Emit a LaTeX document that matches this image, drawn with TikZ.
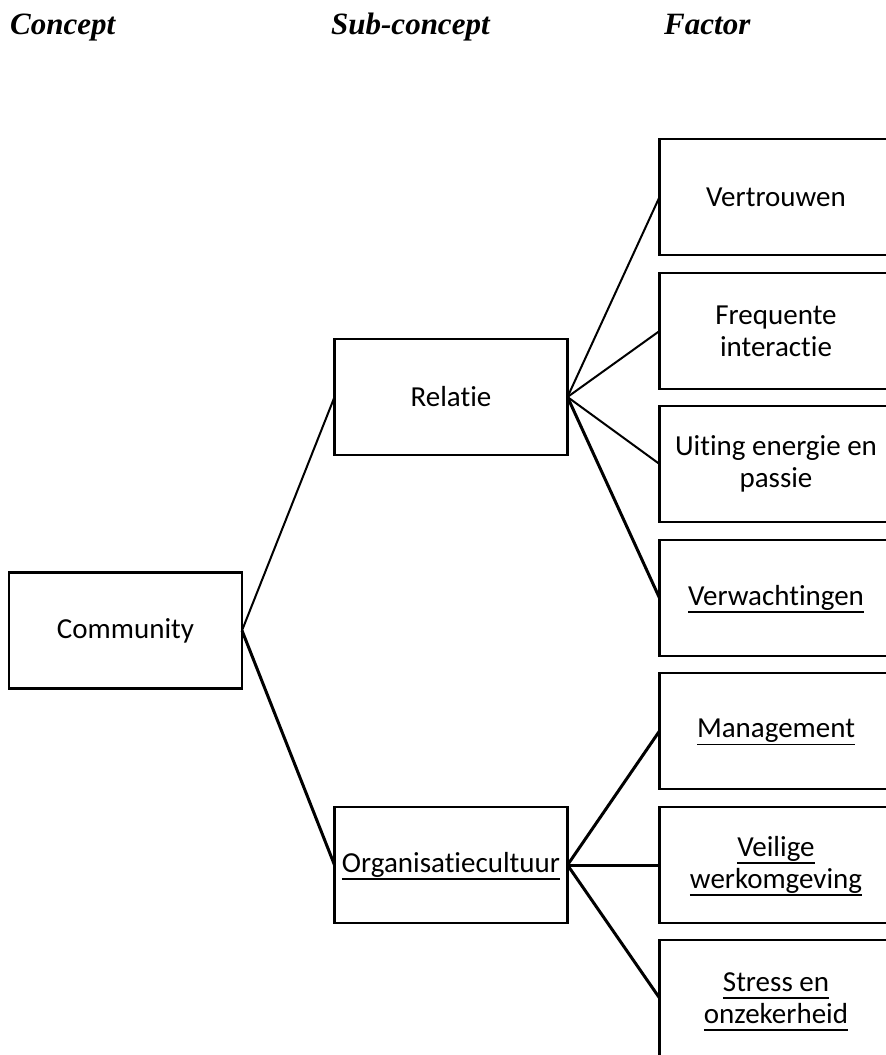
\documentclass[tikz,border=0pt]{standalone}
\usepackage{fontspec}
\setmainfont{Carlito}[Ligatures={NoCommon,NoContextual},Contextuals=NoAlternate]
\newfontfamily\headfont{Liberation Serif}
% underline set close below the baseline, as a word processor draws it
\newcommand\undl[1]{\setbox0\hbox{#1}\rlap{\smash{\rule[-0.25em]{\wd0}{0.05em}}}\box0}
\begin{document}
\begin{tikzpicture}[x=1pt,y=-1pt,
  box/.style={draw, line width=2.8pt, minimum width=233pt, minimum height=116pt,
    inner sep=0pt, outer sep=0pt, align=center, font=\fontsize{29}{32}\selectfont},
  factorbox/.style={box, draw=none},
  frame/.style={line width=2.8pt},
  head/.style={anchor=base west, inner sep=0pt,
    font=\fontsize{31}{36}\selectfont\headfont\bfseries\itshape},
  thinlink/.style={line width=2pt},
  thicklink/.style={line width=3pt}]
\path[use as bounding box] (0,0) rectangle (886,1055);
\clip (0,0) rectangle (886,1055);

% column headings
\node[head] (hconcept) at (10,34) {Concept};
\node[head] (hsub) at (331,34) {Sub-concept};
\node[head] (hfactor) at (664,34) {Factor};

% concept and sub-concepts
\node[box] (comm) at (125.5,630.5) {Community};
\node[box] (rel) at (451,397) {Relatie};
\node[box] (org) at (451,865) {\undl{Organisatiecultuur}};

% factors; their frames run on past the right-hand edge of the page
\node[factorbox] (f1) at (776,197) {Vertrouwen};
\node[factorbox] (f2) at (776,331) {Frequente\\interactie};
\node[factorbox] (f3) at (776,464) {Uiting energie en\\passie};
\node[factorbox] (f4) at (776,598) {\undl{Verwachtingen}};
\node[factorbox] (f5) at (776,731) {\undl{Management}};
\node[factorbox] (f6) at (776,865) {\undl{Veilige}\\\undl{werkomgeving}};
\node[factorbox] (f7) at (776,998) {\undl{Stress en}\\\undl{onzekerheid}};
\foreach \n in {f1,f2,f3,f4,f5,f6,f7}
  \draw[frame] (\n.north west) rectangle ([xshift=100pt]\n.south east);

% connectors
\draw[thinlink] (comm.east) -- (rel.west);
\draw[thicklink] (comm.east) -- (org.west);
\draw[thinlink] (rel.east) -- (f1.west);
\draw[thinlink] (rel.east) -- (f2.west);
\draw[thinlink] (rel.east) -- (f3.west);
\draw[thicklink] (rel.east) -- (f4.west);
\draw[thicklink] (org.east) -- (f5.west);
\draw[thicklink] (org.east) -- (f6.west);
\draw[thicklink] (org.east) -- (f7.west);
\end{tikzpicture}
\end{document}
